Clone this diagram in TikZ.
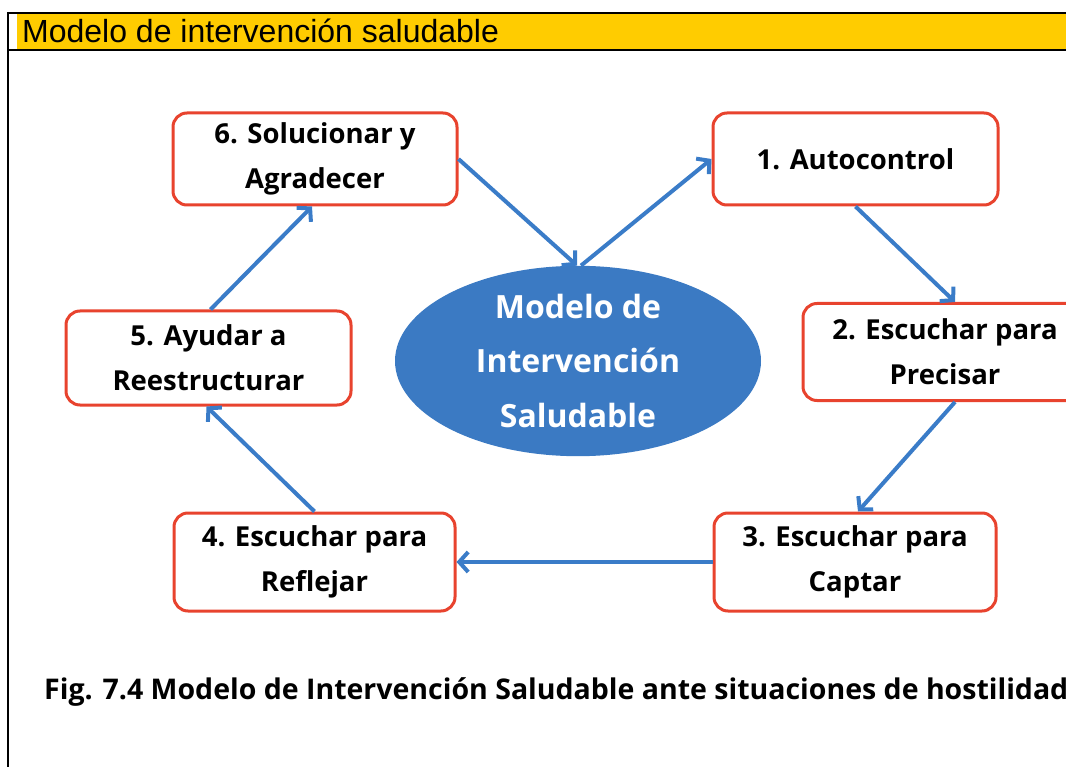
\documentclass[tikz,border=0pt]{standalone}
\usepackage{fontspec}
\setmainfont{Liberation Sans}
\newfontfamily\boxfont{Open Sans}[BoldFont={Open Sans Bold}]
\usetikzlibrary{arrows.meta,shapes.geometric}
\definecolor{hdr}{HTML}{FFCC00}
\definecolor{boxred}{HTML}{E8432E}
\definecolor{arrblue}{HTML}{3A7CC8}
\definecolor{ellblue}{HTML}{3B7AC3}
\begin{document}
\begin{tikzpicture}[x=1pt,y=-1pt,
  stepbox/.style={draw=boxred, line width=3pt, rounded corners=14pt, fill=white,
    align=center, inner sep=0pt,
    font=\boxfont\bfseries\fontsize{27.5}{45}\selectfont},
  flow/.style={draw=arrblue, line width=4pt, -{Straight Barb[length=9pt,width=20pt]}},
  frameline/.style={draw=black, line width=2pt}]
\useasboundingbox (0,0) rectangle (1066,767);
\clip (0,0) rectangle (1066,767);
% header
\fill[hdr] (17,13) rectangle (1066,50);
\draw[frameline] (8,13) -- (1066,13);
\draw[frameline] (8,50) -- (1066,50);
\draw[frameline] (8,12) -- (8,767);
\node[anchor=base west, inner sep=0pt, font=\fontsize{32}{34}\selectfont] (title) at (22,43) {Modelo de intervención saludable};
% boxes
\node[stepbox, minimum width=284pt, minimum height=92pt] (b6) at (315,159) {6. Solucionar y\\Agradecer};
\node[stepbox, minimum width=285pt, minimum height=92pt] (b1) at (855.5,159) {1. Autocontrol};
\node[stepbox, minimum width=284pt, minimum height=97pt] (b2) at (945,352) {2. Escuchar para\\Precisar};
\node[stepbox, minimum width=285pt, minimum height=94pt] (b5) at (208.5,358) {5. Ayudar a\\Reestructurar};
\node[stepbox, minimum width=281pt, minimum height=98pt] (b4) at (314.5,562) {4. Escuchar para\\Reflejar};
\node[stepbox, minimum width=282pt, minimum height=98pt] (b3) at (855,562) {3. Escuchar para\\Captar};
% centre ellipse
\node[ellipse, fill=ellblue, minimum width=366pt, minimum height=166pt, inner sep=0pt,
  text=white, align=center, font=\boxfont\bfseries\fontsize{32}{55}\selectfont] (ell) at (578,361) {Modelo de\\Intervención\\Saludable};
% connectors
\draw[flow] (b6.east) -- ([xshift=-1pt]ell.north);
\draw[flow] ([xshift=3pt]ell.north) -- (b1.west);
\draw[flow] (b1.south) -- ([xshift=10pt]b2.north);
\draw[flow] ([xshift=10pt]b2.south) -- ([xshift=3pt]b3.north);
\draw[flow] (b3.west) -- (b4.east);
\draw[flow] (b4.north) -- ([xshift=-2pt]b5.south);
\draw[flow] ([xshift=2pt]b5.north) -- ([xshift=-3pt]b6.south);
% caption
\node[anchor=base west, inner sep=0pt, font=\boxfont\bfseries\fontsize{28.5}{30}\selectfont] (cap) at (44,699) {Fig. 7.4 Modelo de Intervención Saludable ante situaciones de hostilidad};
\end{tikzpicture}
\end{document}
